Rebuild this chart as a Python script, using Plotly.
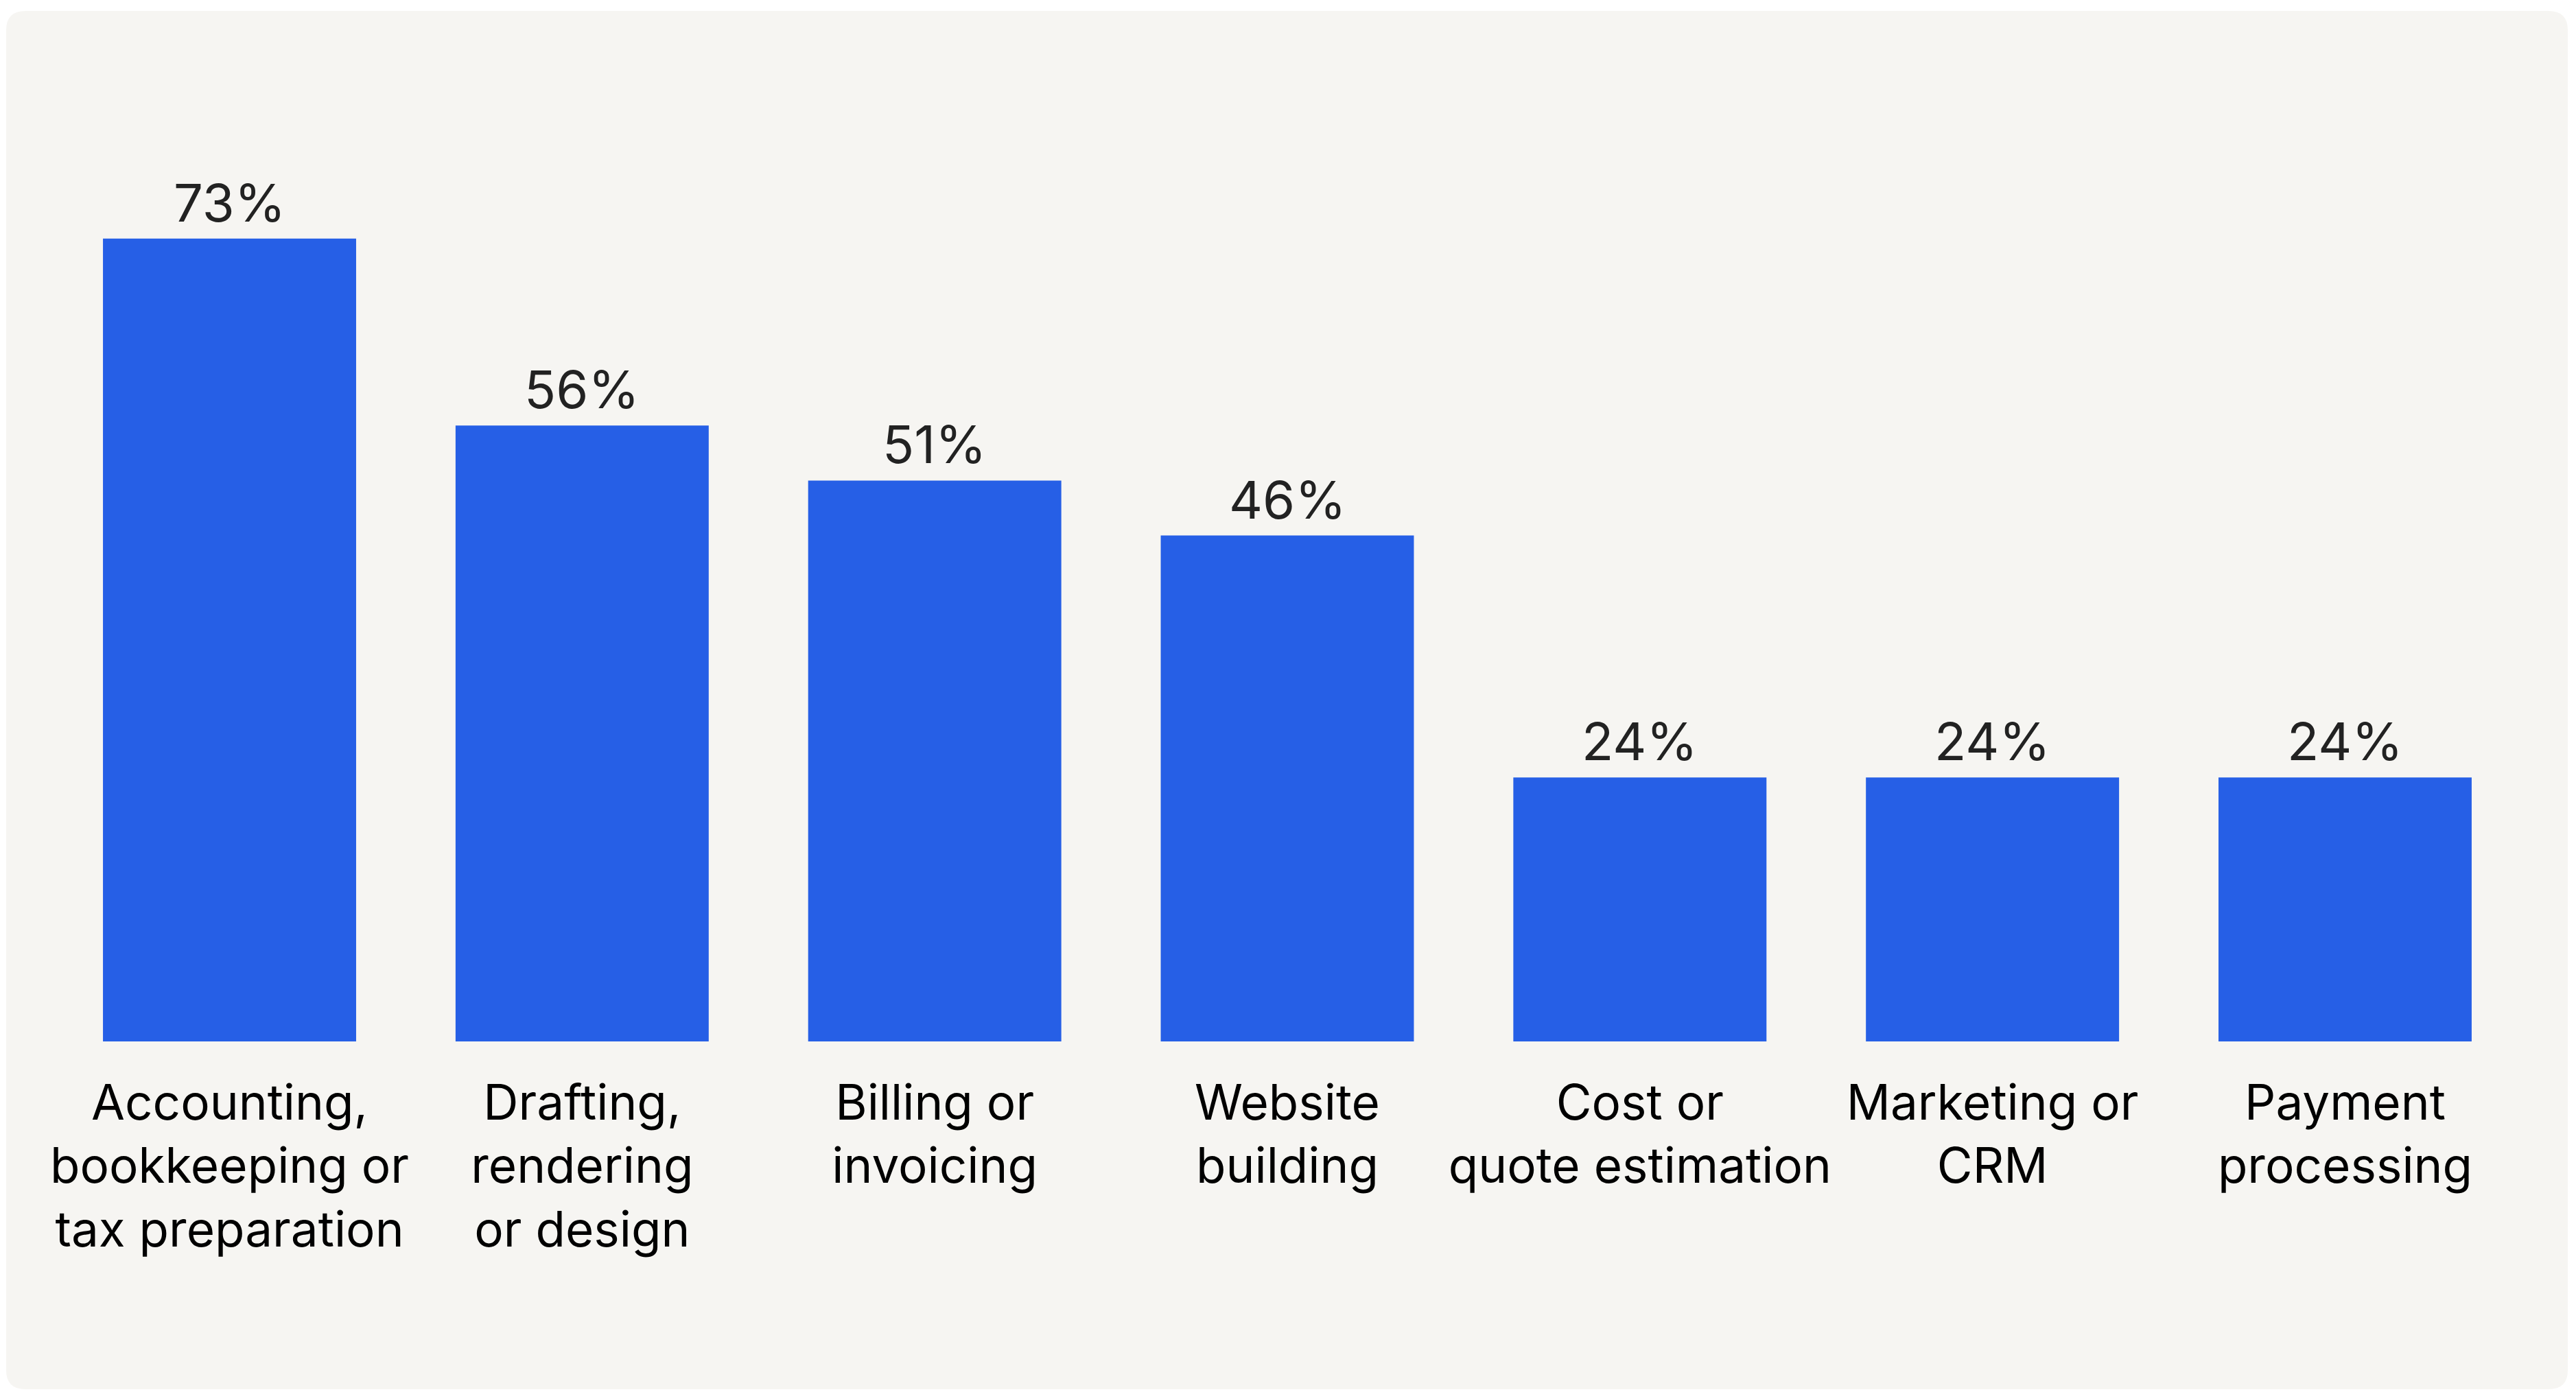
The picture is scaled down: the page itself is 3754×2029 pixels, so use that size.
import plotly.graph_objects as go

# Survey results: share of respondents using software for each business task
categories = [
    "Accounting,<br>bookkeeping or<br>tax preparation",
    "Drafting,<br>rendering<br>or design",
    "Billing or<br>invoicing",
    "Website<br>building",
    "Cost or<br>quote estimation",
    "Marketing or<br>CRM",
    "Payment<br>processing",
]
shares = [73, 56, 51, 46, 24, 24, 24]
value_labels = [f"{v}%" for v in shares]

W, H = 3754, 2029
BAR_COLOR = "#265FE6"
PANEL_COLOR = "#F6F5F2"
FONT = "Inter"

# Plot area placement in pixels
plot_left, plot_right = 77.6, 3674.4
plot_top, plot_bottom = 100.0, 1518.0
px_per_unit = (1518.0 - 347.7) / 73.0
y_max = (plot_bottom - plot_top) / px_per_unit


def rounded_rect(x0, y0, x1, y1, r):
    """Rounded rectangle path in paper coordinates from pixel bounds."""
    def px(x):
        return x / W

    def py(y):
        return 1 - y / H

    pts = [
        f"M {px(x0 + r)},{py(y0)}",
        f"L {px(x1 - r)},{py(y0)}",
        f"Q {px(x1)},{py(y0)} {px(x1)},{py(y0 + r)}",
        f"L {px(x1)},{py(y1 - r)}",
        f"Q {px(x1)},{py(y1)} {px(x1 - r)},{py(y1)}",
        f"L {px(x0 + r)},{py(y1)}",
        f"Q {px(x0)},{py(y1)} {px(x0)},{py(y1 - r)}",
        f"L {px(x0)},{py(y0 + r)}",
        f"Q {px(x0)},{py(y0)} {px(x0 + r)},{py(y0)}",
        "Z",
    ]
    return " ".join(pts)


fig = go.Figure(
    go.Bar(
        x=categories,
        y=shares,
        marker=dict(color=BAR_COLOR, line=dict(width=0)),
        hoverinfo="skip",
    )
)

for cat, val, lab in zip(categories, shares, value_labels):
    fig.add_annotation(
        x=cat,
        y=val,
        xref="x",
        yref="y",
        text=lab,
        showarrow=False,
        yanchor="bottom",
        yshift=5,
        font=dict(family=FONT, size=76, color="#222222"),
    )

fig.add_shape(
    type="path",
    path=rounded_rect(9, 16, 3742, 2025, 28),
    xref="paper",
    yref="paper",
    fillcolor=PANEL_COLOR,
    line=dict(width=0),
    layer="below",
)

fig.update_layout(
    width=W,
    height=H,
    margin=dict(l=0, r=0, t=0, b=0, autoexpand=False),
    paper_bgcolor="white",
    plot_bgcolor="rgba(0,0,0,0)",
    bargap=0.282,
    showlegend=False,
    font=dict(family=FONT),
    xaxis=dict(
        domain=[plot_left / W, plot_right / W],
        automargin=False,
        showgrid=False,
        zeroline=False,
        showline=False,
        ticks="",
        ticklabelstandoff=42,
        tickfont=dict(family=FONT, size=71, color="#000000"),
        fixedrange=True,
    ),
    yaxis=dict(
        domain=[1 - plot_bottom / H, 1 - plot_top / H],
        range=[0, y_max],
        visible=False,
        automargin=False,
        fixedrange=True,
    ),
)

fig.write_html("out.html")
